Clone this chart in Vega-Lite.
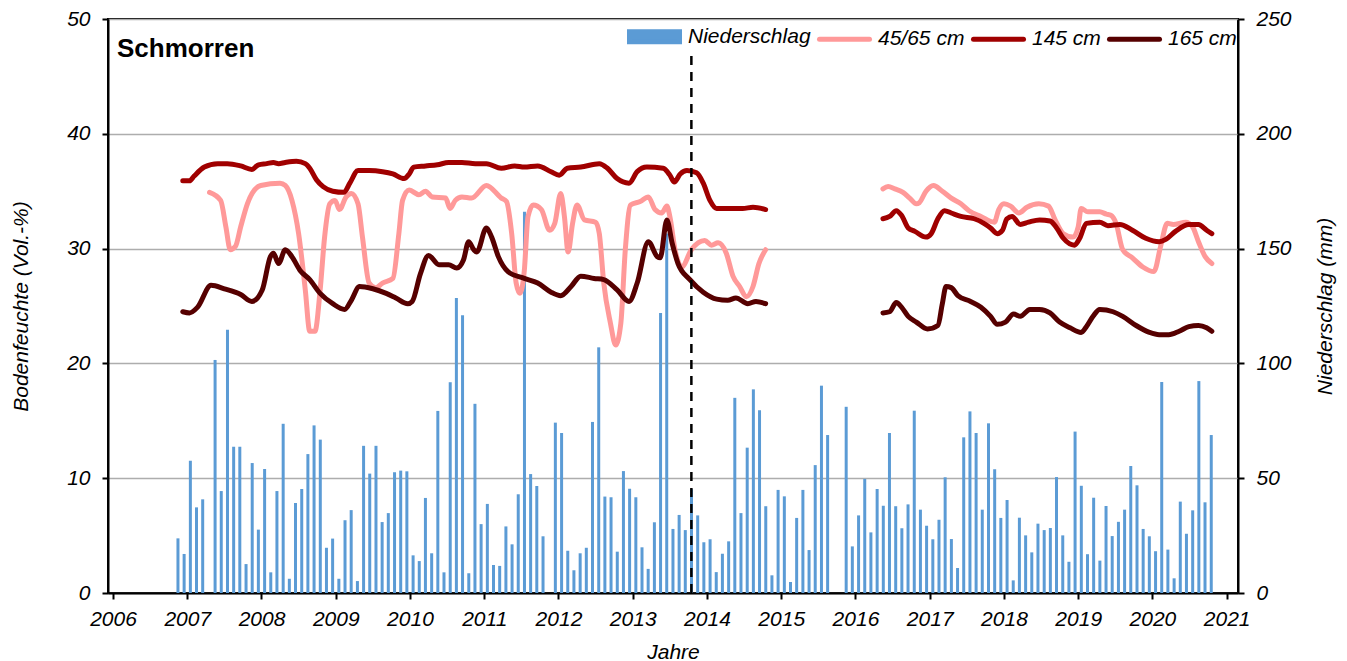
{
  "$schema": "https://vega.github.io/schema/vega-lite/v6.json",
  "width": 1130,
  "height": 574,
  "autosize": {"type": "none"},
  "padding": {"left": 108, "top": 19, "right": 109, "bottom": 68},
  "background": "white",
  "config": {
    "font": "Liberation Sans",
    "view": {"stroke": "black", "strokeWidth": 2},
    "axis": {
      "domainColor": "black", "domainWidth": 2,
      "tickColor": "black", "tickWidth": 2, "tickSize": 6,
      "labelFont": "Liberation Sans", "labelFontSize": 21, "labelFontStyle": "italic", "labelColor": "black",
      "titleFont": "Liberation Sans", "titleFontSize": 21, "titleFontStyle": "italic", "titleFontWeight": "normal", "titleColor": "black",
      "gridColor": "#ADADAD", "gridWidth": 1.3
    }
  },
  "title": {
    "text": "Schmorren", "anchor": "start", "frame": "group", "orient": "top",
    "offset": -75, "baseline": "alphabetic", "dx": 9,
    "font": "Liberation Sans", "fontSize": 26, "fontWeight": "bold", "color": "black"
  },
  "datasets": {
    "bars": [
      {"t":2006.875,"p":23.8},{"t":2006.958,"p":17.0},
      {"t":2007.042,"p":57.6},{"t":2007.125,"p":37.3},{"t":2007.208,"p":40.8},{"t":2007.375,"p":101.5},{"t":2007.458,"p":44.4},{"t":2007.542,"p":114.7},{"t":2007.625,"p":63.7},{"t":2007.708,"p":63.7},{"t":2007.792,"p":12.6},{"t":2007.875,"p":56.6},{"t":2007.958,"p":27.6},
      {"t":2008.042,"p":54.0},{"t":2008.125,"p":9.0},{"t":2008.208,"p":44.4},{"t":2008.292,"p":73.7},{"t":2008.375,"p":6.2},{"t":2008.458,"p":39.2},{"t":2008.542,"p":45.3},{"t":2008.625,"p":60.5},{"t":2008.708,"p":73.0},{"t":2008.792,"p":66.8},{"t":2008.875,"p":19.7},{"t":2008.958,"p":23.7},
      {"t":2009.042,"p":6.2},{"t":2009.125,"p":31.7},{"t":2009.208,"p":36.1},{"t":2009.292,"p":5.2},{"t":2009.375,"p":64.1},{"t":2009.458,"p":52.0},{"t":2009.542,"p":64.1},{"t":2009.625,"p":30.9},{"t":2009.708,"p":34.8},{"t":2009.792,"p":52.6},{"t":2009.875,"p":53.3},{"t":2009.958,"p":53.0},
      {"t":2010.042,"p":16.4},{"t":2010.125,"p":13.9},{"t":2010.208,"p":41.4},{"t":2010.292,"p":17.3},{"t":2010.375,"p":79.3},{"t":2010.458,"p":9.0},{"t":2010.542,"p":91.8},{"t":2010.625,"p":128.5},{"t":2010.708,"p":121.0},{"t":2010.792,"p":8.6},{"t":2010.875,"p":82.4},{"t":2010.958,"p":30.0},
      {"t":2011.042,"p":38.8},{"t":2011.125,"p":12.2},{"t":2011.208,"p":11.8},{"t":2011.292,"p":29.0},{"t":2011.375,"p":21.2},{"t":2011.458,"p":43.0},{"t":2011.542,"p":166.0},{"t":2011.625,"p":51.8},{"t":2011.708,"p":46.6},{"t":2011.792,"p":24.7},{"t":2011.958,"p":74.2},
      {"t":2012.042,"p":69.7},{"t":2012.125,"p":18.4},{"t":2012.208,"p":9.9},{"t":2012.292,"p":17.3},{"t":2012.375,"p":19.7},{"t":2012.458,"p":74.5},{"t":2012.542,"p":107.0},{"t":2012.625,"p":42.0},{"t":2012.708,"p":41.7},{"t":2012.792,"p":18.0},{"t":2012.875,"p":53.1},{"t":2012.958,"p":45.4},
      {"t":2013.042,"p":41.7},{"t":2013.125,"p":19.9},{"t":2013.208,"p":10.5},{"t":2013.292,"p":30.8},{"t":2013.375,"p":122.0},{"t":2013.458,"p":156.6},{"t":2013.542,"p":27.9},{"t":2013.625,"p":34.0},{"t":2013.708,"p":27.4},{"t":2013.792,"p":45.2},{"t":2013.875,"p":33.8},{"t":2013.958,"p":22.1},
      {"t":2014.042,"p":23.4},{"t":2014.125,"p":9.1},{"t":2014.208,"p":17.1},{"t":2014.292,"p":22.5},{"t":2014.375,"p":85.0},{"t":2014.458,"p":34.8},{"t":2014.542,"p":63.3},{"t":2014.625,"p":88.7},{"t":2014.708,"p":79.6},{"t":2014.792,"p":37.8},{"t":2014.875,"p":7.7},{"t":2014.958,"p":44.9},
      {"t":2015.042,"p":42.1},{"t":2015.125,"p":4.8},{"t":2015.208,"p":32.7},{"t":2015.292,"p":44.9},{"t":2015.375,"p":18.7},{"t":2015.458,"p":55.7},{"t":2015.542,"p":90.3},{"t":2015.625,"p":68.8},{"t":2015.875,"p":81.1},{"t":2015.958,"p":20.3},
      {"t":2016.042,"p":33.8},{"t":2016.125,"p":49.7},{"t":2016.208,"p":26.4},{"t":2016.292,"p":45.3},{"t":2016.375,"p":38.0},{"t":2016.458,"p":69.7},{"t":2016.542,"p":37.8},{"t":2016.625,"p":28.2},{"t":2016.708,"p":38.6},{"t":2016.792,"p":79.4},{"t":2016.875,"p":36.3},{"t":2016.958,"p":29.3},
      {"t":2017.042,"p":23.4},{"t":2017.125,"p":31.9},{"t":2017.208,"p":50.4},{"t":2017.292,"p":23.5},{"t":2017.375,"p":10.9},{"t":2017.458,"p":67.8},{"t":2017.542,"p":79.1},{"t":2017.625,"p":69.7},{"t":2017.708,"p":36.3},{"t":2017.792,"p":73.9},{"t":2017.875,"p":53.9},{"t":2017.958,"p":32.7},
      {"t":2018.042,"p":40.5},{"t":2018.125,"p":5.5},{"t":2018.208,"p":32.8},{"t":2018.292,"p":25.1},{"t":2018.375,"p":17.7},{"t":2018.458,"p":30.2},{"t":2018.542,"p":27.4},{"t":2018.625,"p":28.3},{"t":2018.708,"p":50.5},{"t":2018.792,"p":25.1},{"t":2018.875,"p":13.6},{"t":2018.958,"p":70.3},
      {"t":2019.042,"p":46.7},{"t":2019.125,"p":16.9},{"t":2019.208,"p":41.5},{"t":2019.292,"p":14.1},{"t":2019.375,"p":37.9},{"t":2019.458,"p":24.8},{"t":2019.542,"p":31.0},{"t":2019.625,"p":36.3},{"t":2019.708,"p":55.3},{"t":2019.792,"p":46.9},{"t":2019.875,"p":27.9},{"t":2019.958,"p":24.7},
      {"t":2020.042,"p":18.2},{"t":2020.125,"p":91.9},{"t":2020.208,"p":18.9},{"t":2020.292,"p":6.4},{"t":2020.375,"p":39.8},{"t":2020.458,"p":25.8},{"t":2020.542,"p":36.0},{"t":2020.625,"p":92.3},{"t":2020.708,"p":39.5},{"t":2020.792,"p":68.8}
    ],
    "soil": [
      {"t":2007.30,"v":34.9,"s":"45/65 cm","g":1},{"t":2007.45,"v":34.2,"s":"45/65 cm","g":1},{"t":2007.52,"v":31.9,"s":"45/65 cm","g":1},{"t":2007.58,"v":29.9,"s":"45/65 cm","g":1},{"t":2007.65,"v":30.2,"s":"45/65 cm","g":1},{"t":2007.72,"v":31.9,"s":"45/65 cm","g":1},{"t":2007.81,"v":33.9,"s":"45/65 cm","g":1},{"t":2007.99,"v":35.5,"s":"45/65 cm","g":1},{"t":2008.25,"v":35.7,"s":"45/65 cm","g":1},{"t":2008.32,"v":35.5,"s":"45/65 cm","g":1},{"t":2008.41,"v":34.2,"s":"45/65 cm","g":1},{"t":2008.50,"v":31.3,"s":"45/65 cm","g":1},{"t":2008.59,"v":26.4,"s":"45/65 cm","g":1},{"t":2008.65,"v":22.8,"s":"45/65 cm","g":1},{"t":2008.72,"v":22.8,"s":"45/65 cm","g":1},{"t":2008.79,"v":26.4,"s":"45/65 cm","g":1},{"t":2008.85,"v":31.0,"s":"45/65 cm","g":1},{"t":2008.92,"v":33.9,"s":"45/65 cm","g":1},{"t":2008.99,"v":34.2,"s":"45/65 cm","g":1},{"t":2009.05,"v":33.4,"s":"45/65 cm","g":1},{"t":2009.14,"v":34.5,"s":"45/65 cm","g":1},{"t":2009.21,"v":34.8,"s":"45/65 cm","g":1},{"t":2009.30,"v":33.9,"s":"45/65 cm","g":1},{"t":2009.36,"v":31.0,"s":"45/65 cm","g":1},{"t":2009.45,"v":27.0,"s":"45/65 cm","g":1},{"t":2009.54,"v":26.6,"s":"45/65 cm","g":1},{"t":2009.63,"v":27.0,"s":"45/65 cm","g":1},{"t":2009.77,"v":27.4,"s":"45/65 cm","g":1},{"t":2009.85,"v":31.3,"s":"45/65 cm","g":1},{"t":2009.90,"v":34.2,"s":"45/65 cm","g":1},{"t":2009.99,"v":35.1,"s":"45/65 cm","g":1},{"t":2010.12,"v":34.7,"s":"45/65 cm","g":1},{"t":2010.21,"v":35.0,"s":"45/65 cm","g":1},{"t":2010.30,"v":34.5,"s":"45/65 cm","g":1},{"t":2010.48,"v":34.4,"s":"45/65 cm","g":1},{"t":2010.54,"v":33.5,"s":"45/65 cm","g":1},{"t":2010.61,"v":34.2,"s":"45/65 cm","g":1},{"t":2010.70,"v":34.5,"s":"45/65 cm","g":1},{"t":2010.83,"v":34.4,"s":"45/65 cm","g":1},{"t":2011.03,"v":35.5,"s":"45/65 cm","g":1},{"t":2011.23,"v":34.4,"s":"45/65 cm","g":1},{"t":2011.30,"v":34.1,"s":"45/65 cm","g":1},{"t":2011.37,"v":31.3,"s":"45/65 cm","g":1},{"t":2011.43,"v":27.0,"s":"45/65 cm","g":1},{"t":2011.48,"v":26.1,"s":"45/65 cm","g":1},{"t":2011.54,"v":28.1,"s":"45/65 cm","g":1},{"t":2011.59,"v":32.8,"s":"45/65 cm","g":1},{"t":2011.66,"v":33.8,"s":"45/65 cm","g":1},{"t":2011.77,"v":33.4,"s":"45/65 cm","g":1},{"t":2011.88,"v":31.6,"s":"45/65 cm","g":1},{"t":2011.95,"v":32.2,"s":"45/65 cm","g":1},{"t":2012.03,"v":34.8,"s":"45/65 cm","g":1},{"t":2012.08,"v":32.8,"s":"45/65 cm","g":1},{"t":2012.13,"v":29.7,"s":"45/65 cm","g":1},{"t":2012.19,"v":32.2,"s":"45/65 cm","g":1},{"t":2012.25,"v":33.8,"s":"45/65 cm","g":1},{"t":2012.35,"v":32.5,"s":"45/65 cm","g":1},{"t":2012.50,"v":32.3,"s":"45/65 cm","g":1},{"t":2012.55,"v":31.3,"s":"45/65 cm","g":1},{"t":2012.61,"v":27.0,"s":"45/65 cm","g":1},{"t":2012.70,"v":23.5,"s":"45/65 cm","g":1},{"t":2012.77,"v":21.6,"s":"45/65 cm","g":1},{"t":2012.84,"v":23.5,"s":"45/65 cm","g":1},{"t":2012.90,"v":29.9,"s":"45/65 cm","g":1},{"t":2012.97,"v":33.8,"s":"45/65 cm","g":1},{"t":2013.10,"v":34.1,"s":"45/65 cm","g":1},{"t":2013.21,"v":34.5,"s":"45/65 cm","g":1},{"t":2013.30,"v":33.4,"s":"45/65 cm","g":1},{"t":2013.39,"v":33.1,"s":"45/65 cm","g":1},{"t":2013.46,"v":33.7,"s":"45/65 cm","g":1},{"t":2013.50,"v":32.8,"s":"45/65 cm","g":1},{"t":2013.57,"v":29.9,"s":"45/65 cm","g":1},{"t":2013.66,"v":28.4,"s":"45/65 cm","g":1},{"t":2013.79,"v":29.9,"s":"45/65 cm","g":1},{"t":2013.97,"v":30.7,"s":"45/65 cm","g":1},{"t":2014.06,"v":30.3,"s":"45/65 cm","g":1},{"t":2014.15,"v":30.5,"s":"45/65 cm","g":1},{"t":2014.26,"v":29.6,"s":"45/65 cm","g":1},{"t":2014.35,"v":27.6,"s":"45/65 cm","g":1},{"t":2014.44,"v":26.7,"s":"45/65 cm","g":1},{"t":2014.53,"v":25.8,"s":"45/65 cm","g":1},{"t":2014.62,"v":26.7,"s":"45/65 cm","g":1},{"t":2014.70,"v":28.7,"s":"45/65 cm","g":1},{"t":2014.79,"v":29.9,"s":"45/65 cm","g":1},
      {"t":2016.37,"v":35.2,"s":"45/65 cm","g":2},{"t":2016.44,"v":35.4,"s":"45/65 cm","g":2},{"t":2016.53,"v":35.2,"s":"45/65 cm","g":2},{"t":2016.64,"v":34.9,"s":"45/65 cm","g":2},{"t":2016.73,"v":34.4,"s":"45/65 cm","g":2},{"t":2016.82,"v":33.9,"s":"45/65 cm","g":2},{"t":2016.86,"v":34.0,"s":"45/65 cm","g":2},{"t":2016.95,"v":35.0,"s":"45/65 cm","g":2},{"t":2017.05,"v":35.5,"s":"45/65 cm","g":2},{"t":2017.17,"v":35.0,"s":"45/65 cm","g":2},{"t":2017.29,"v":34.4,"s":"45/65 cm","g":2},{"t":2017.42,"v":33.9,"s":"45/65 cm","g":2},{"t":2017.53,"v":33.3,"s":"45/65 cm","g":2},{"t":2017.69,"v":32.8,"s":"45/65 cm","g":2},{"t":2017.87,"v":32.3,"s":"45/65 cm","g":2},{"t":2017.93,"v":33.4,"s":"45/65 cm","g":2},{"t":2018.00,"v":33.9,"s":"45/65 cm","g":2},{"t":2018.09,"v":33.7,"s":"45/65 cm","g":2},{"t":2018.20,"v":33.1,"s":"45/65 cm","g":2},{"t":2018.31,"v":33.6,"s":"45/65 cm","g":2},{"t":2018.47,"v":33.9,"s":"45/65 cm","g":2},{"t":2018.60,"v":33.7,"s":"45/65 cm","g":2},{"t":2018.69,"v":32.5,"s":"45/65 cm","g":2},{"t":2018.80,"v":31.3,"s":"45/65 cm","g":2},{"t":2018.93,"v":31.0,"s":"45/65 cm","g":2},{"t":2019.00,"v":31.9,"s":"45/65 cm","g":2},{"t":2019.04,"v":33.5,"s":"45/65 cm","g":2},{"t":2019.13,"v":33.2,"s":"45/65 cm","g":2},{"t":2019.29,"v":33.2,"s":"45/65 cm","g":2},{"t":2019.38,"v":33.0,"s":"45/65 cm","g":2},{"t":2019.44,"v":32.9,"s":"45/65 cm","g":2},{"t":2019.51,"v":32.2,"s":"45/65 cm","g":2},{"t":2019.60,"v":29.9,"s":"45/65 cm","g":2},{"t":2019.73,"v":29.2,"s":"45/65 cm","g":2},{"t":2019.87,"v":28.4,"s":"45/65 cm","g":2},{"t":2020.02,"v":28.0,"s":"45/65 cm","g":2},{"t":2020.11,"v":30.2,"s":"45/65 cm","g":2},{"t":2020.20,"v":32.2,"s":"45/65 cm","g":2},{"t":2020.28,"v":32.1,"s":"45/65 cm","g":2},{"t":2020.45,"v":32.3,"s":"45/65 cm","g":2},{"t":2020.54,"v":31.9,"s":"45/65 cm","g":2},{"t":2020.62,"v":30.6,"s":"45/65 cm","g":2},{"t":2020.71,"v":29.3,"s":"45/65 cm","g":2},{"t":2020.80,"v":28.7,"s":"45/65 cm","g":2},
      {"t":2006.94,"v":35.9,"s":"145 cm","g":1},{"t":2007.03,"v":35.9,"s":"145 cm","g":1},{"t":2007.09,"v":36.3,"s":"145 cm","g":1},{"t":2007.23,"v":37.1,"s":"145 cm","g":1},{"t":2007.41,"v":37.4,"s":"145 cm","g":1},{"t":2007.54,"v":37.4,"s":"145 cm","g":1},{"t":2007.72,"v":37.2,"s":"145 cm","g":1},{"t":2007.87,"v":36.9,"s":"145 cm","g":1},{"t":2007.96,"v":37.3,"s":"145 cm","g":1},{"t":2008.07,"v":37.4,"s":"145 cm","g":1},{"t":2008.16,"v":37.5,"s":"145 cm","g":1},{"t":2008.23,"v":37.4,"s":"145 cm","g":1},{"t":2008.32,"v":37.5,"s":"145 cm","g":1},{"t":2008.47,"v":37.6,"s":"145 cm","g":1},{"t":2008.59,"v":37.4,"s":"145 cm","g":1},{"t":2008.65,"v":37.0,"s":"145 cm","g":1},{"t":2008.74,"v":36.0,"s":"145 cm","g":1},{"t":2008.83,"v":35.4,"s":"145 cm","g":1},{"t":2008.96,"v":35.0,"s":"145 cm","g":1},{"t":2009.11,"v":34.9,"s":"145 cm","g":1},{"t":2009.19,"v":35.7,"s":"145 cm","g":1},{"t":2009.30,"v":36.8,"s":"145 cm","g":1},{"t":2009.45,"v":36.8,"s":"145 cm","g":1},{"t":2009.63,"v":36.7,"s":"145 cm","g":1},{"t":2009.77,"v":36.5,"s":"145 cm","g":1},{"t":2009.92,"v":36.1,"s":"145 cm","g":1},{"t":2009.99,"v":36.5,"s":"145 cm","g":1},{"t":2010.05,"v":37.1,"s":"145 cm","g":1},{"t":2010.21,"v":37.2,"s":"145 cm","g":1},{"t":2010.37,"v":37.3,"s":"145 cm","g":1},{"t":2010.52,"v":37.5,"s":"145 cm","g":1},{"t":2010.70,"v":37.5,"s":"145 cm","g":1},{"t":2010.88,"v":37.4,"s":"145 cm","g":1},{"t":2011.03,"v":37.4,"s":"145 cm","g":1},{"t":2011.23,"v":37.0,"s":"145 cm","g":1},{"t":2011.41,"v":37.2,"s":"145 cm","g":1},{"t":2011.54,"v":37.1,"s":"145 cm","g":1},{"t":2011.72,"v":37.2,"s":"145 cm","g":1},{"t":2011.90,"v":36.7,"s":"145 cm","g":1},{"t":2012.01,"v":36.4,"s":"145 cm","g":1},{"t":2012.12,"v":37.0,"s":"145 cm","g":1},{"t":2012.30,"v":37.1,"s":"145 cm","g":1},{"t":2012.55,"v":37.4,"s":"145 cm","g":1},{"t":2012.66,"v":37.0,"s":"145 cm","g":1},{"t":2012.79,"v":36.1,"s":"145 cm","g":1},{"t":2012.95,"v":35.7,"s":"145 cm","g":1},{"t":2013.06,"v":36.7,"s":"145 cm","g":1},{"t":2013.19,"v":37.1,"s":"145 cm","g":1},{"t":2013.41,"v":37.0,"s":"145 cm","g":1},{"t":2013.50,"v":36.4,"s":"145 cm","g":1},{"t":2013.56,"v":35.8,"s":"145 cm","g":1},{"t":2013.64,"v":36.5,"s":"145 cm","g":1},{"t":2013.73,"v":36.8,"s":"145 cm","g":1},{"t":2013.86,"v":36.6,"s":"145 cm","g":1},{"t":2013.95,"v":35.7,"s":"145 cm","g":1},{"t":2014.04,"v":34.2,"s":"145 cm","g":1},{"t":2014.13,"v":33.5,"s":"145 cm","g":1},{"t":2014.30,"v":33.5,"s":"145 cm","g":1},{"t":2014.48,"v":33.5,"s":"145 cm","g":1},{"t":2014.62,"v":33.6,"s":"145 cm","g":1},{"t":2014.79,"v":33.4,"s":"145 cm","g":1},
      {"t":2016.37,"v":32.6,"s":"145 cm","g":2},{"t":2016.46,"v":32.8,"s":"145 cm","g":2},{"t":2016.55,"v":33.3,"s":"145 cm","g":2},{"t":2016.62,"v":32.9,"s":"145 cm","g":2},{"t":2016.71,"v":31.8,"s":"145 cm","g":2},{"t":2016.80,"v":31.5,"s":"145 cm","g":2},{"t":2016.95,"v":31.0,"s":"145 cm","g":2},{"t":2017.02,"v":31.3,"s":"145 cm","g":2},{"t":2017.11,"v":32.6,"s":"145 cm","g":2},{"t":2017.20,"v":33.3,"s":"145 cm","g":2},{"t":2017.29,"v":33.1,"s":"145 cm","g":2},{"t":2017.42,"v":32.8,"s":"145 cm","g":2},{"t":2017.60,"v":32.6,"s":"145 cm","g":2},{"t":2017.73,"v":32.2,"s":"145 cm","g":2},{"t":2017.82,"v":31.8,"s":"145 cm","g":2},{"t":2017.91,"v":31.3,"s":"145 cm","g":2},{"t":2017.98,"v":31.6,"s":"145 cm","g":2},{"t":2018.04,"v":32.6,"s":"145 cm","g":2},{"t":2018.11,"v":32.8,"s":"145 cm","g":2},{"t":2018.22,"v":32.1,"s":"145 cm","g":2},{"t":2018.33,"v":32.3,"s":"145 cm","g":2},{"t":2018.48,"v":32.5,"s":"145 cm","g":2},{"t":2018.62,"v":32.4,"s":"145 cm","g":2},{"t":2018.71,"v":31.8,"s":"145 cm","g":2},{"t":2018.80,"v":30.9,"s":"145 cm","g":2},{"t":2018.95,"v":30.3,"s":"145 cm","g":2},{"t":2019.02,"v":30.9,"s":"145 cm","g":2},{"t":2019.11,"v":32.2,"s":"145 cm","g":2},{"t":2019.29,"v":32.3,"s":"145 cm","g":2},{"t":2019.40,"v":32.0,"s":"145 cm","g":2},{"t":2019.56,"v":32.1,"s":"145 cm","g":2},{"t":2019.73,"v":31.6,"s":"145 cm","g":2},{"t":2019.91,"v":30.9,"s":"145 cm","g":2},{"t":2020.09,"v":30.6,"s":"145 cm","g":2},{"t":2020.18,"v":30.8,"s":"145 cm","g":2},{"t":2020.31,"v":31.5,"s":"145 cm","g":2},{"t":2020.49,"v":32.1,"s":"145 cm","g":2},{"t":2020.62,"v":32.1,"s":"145 cm","g":2},{"t":2020.73,"v":31.6,"s":"145 cm","g":2},{"t":2020.80,"v":31.3,"s":"145 cm","g":2},
      {"t":2006.94,"v":24.5,"s":"165 cm","g":1},{"t":2007.03,"v":24.4,"s":"165 cm","g":1},{"t":2007.14,"v":24.9,"s":"165 cm","g":1},{"t":2007.32,"v":26.8,"s":"165 cm","g":1},{"t":2007.50,"v":26.5,"s":"165 cm","g":1},{"t":2007.72,"v":26.0,"s":"165 cm","g":1},{"t":2007.87,"v":25.4,"s":"165 cm","g":1},{"t":2008.01,"v":26.4,"s":"165 cm","g":1},{"t":2008.12,"v":29.3,"s":"165 cm","g":1},{"t":2008.16,"v":29.6,"s":"165 cm","g":1},{"t":2008.23,"v":28.7,"s":"165 cm","g":1},{"t":2008.32,"v":29.9,"s":"165 cm","g":1},{"t":2008.41,"v":29.3,"s":"165 cm","g":1},{"t":2008.52,"v":28.1,"s":"165 cm","g":1},{"t":2008.65,"v":27.3,"s":"165 cm","g":1},{"t":2008.79,"v":26.1,"s":"165 cm","g":1},{"t":2008.96,"v":25.2,"s":"165 cm","g":1},{"t":2009.12,"v":24.7,"s":"165 cm","g":1},{"t":2009.21,"v":25.5,"s":"165 cm","g":1},{"t":2009.32,"v":26.7,"s":"165 cm","g":1},{"t":2009.50,"v":26.5,"s":"165 cm","g":1},{"t":2009.68,"v":26.1,"s":"165 cm","g":1},{"t":2009.81,"v":25.7,"s":"165 cm","g":1},{"t":2009.97,"v":25.2,"s":"165 cm","g":1},{"t":2010.03,"v":25.4,"s":"165 cm","g":1},{"t":2010.14,"v":27.8,"s":"165 cm","g":1},{"t":2010.25,"v":29.4,"s":"165 cm","g":1},{"t":2010.39,"v":28.6,"s":"165 cm","g":1},{"t":2010.52,"v":28.6,"s":"165 cm","g":1},{"t":2010.63,"v":28.3,"s":"165 cm","g":1},{"t":2010.72,"v":29.0,"s":"165 cm","g":1},{"t":2010.79,"v":30.6,"s":"165 cm","g":1},{"t":2010.86,"v":29.9,"s":"165 cm","g":1},{"t":2010.90,"v":29.7,"s":"165 cm","g":1},{"t":2011.03,"v":31.8,"s":"165 cm","g":1},{"t":2011.10,"v":31.0,"s":"165 cm","g":1},{"t":2011.19,"v":29.3,"s":"165 cm","g":1},{"t":2011.32,"v":28.0,"s":"165 cm","g":1},{"t":2011.54,"v":27.4,"s":"165 cm","g":1},{"t":2011.72,"v":27.0,"s":"165 cm","g":1},{"t":2011.90,"v":26.2,"s":"165 cm","g":1},{"t":2012.03,"v":25.9,"s":"165 cm","g":1},{"t":2012.17,"v":26.7,"s":"165 cm","g":1},{"t":2012.30,"v":27.6,"s":"165 cm","g":1},{"t":2012.48,"v":27.4,"s":"165 cm","g":1},{"t":2012.61,"v":27.3,"s":"165 cm","g":1},{"t":2012.79,"v":26.4,"s":"165 cm","g":1},{"t":2012.95,"v":25.4,"s":"165 cm","g":1},{"t":2013.06,"v":27.0,"s":"165 cm","g":1},{"t":2013.21,"v":30.6,"s":"165 cm","g":1},{"t":2013.33,"v":29.3,"s":"165 cm","g":1},{"t":2013.37,"v":29.2,"s":"165 cm","g":1},{"t":2013.46,"v":32.5,"s":"165 cm","g":1},{"t":2013.53,"v":30.5,"s":"165 cm","g":1},{"t":2013.61,"v":28.7,"s":"165 cm","g":1},{"t":2013.77,"v":27.3,"s":"165 cm","g":1},{"t":2013.95,"v":26.2,"s":"165 cm","g":1},{"t":2014.13,"v":25.6,"s":"165 cm","g":1},{"t":2014.28,"v":25.5,"s":"165 cm","g":1},{"t":2014.39,"v":25.7,"s":"165 cm","g":1},{"t":2014.55,"v":25.2,"s":"165 cm","g":1},{"t":2014.66,"v":25.4,"s":"165 cm","g":1},{"t":2014.79,"v":25.2,"s":"165 cm","g":1},
      {"t":2016.37,"v":24.4,"s":"165 cm","g":2},{"t":2016.46,"v":24.5,"s":"165 cm","g":2},{"t":2016.55,"v":25.3,"s":"165 cm","g":2},{"t":2016.62,"v":24.9,"s":"165 cm","g":2},{"t":2016.71,"v":24.1,"s":"165 cm","g":2},{"t":2016.82,"v":23.6,"s":"165 cm","g":2},{"t":2016.97,"v":23.0,"s":"165 cm","g":2},{"t":2017.11,"v":23.3,"s":"165 cm","g":2},{"t":2017.17,"v":25.2,"s":"165 cm","g":2},{"t":2017.22,"v":26.7,"s":"165 cm","g":2},{"t":2017.29,"v":26.6,"s":"165 cm","g":2},{"t":2017.38,"v":25.9,"s":"165 cm","g":2},{"t":2017.55,"v":25.4,"s":"165 cm","g":2},{"t":2017.69,"v":24.9,"s":"165 cm","g":2},{"t":2017.82,"v":24.1,"s":"165 cm","g":2},{"t":2017.91,"v":23.4,"s":"165 cm","g":2},{"t":2018.02,"v":23.6,"s":"165 cm","g":2},{"t":2018.13,"v":24.3,"s":"165 cm","g":2},{"t":2018.22,"v":24.1,"s":"165 cm","g":2},{"t":2018.35,"v":24.7,"s":"165 cm","g":2},{"t":2018.48,"v":24.7,"s":"165 cm","g":2},{"t":2018.62,"v":24.4,"s":"165 cm","g":2},{"t":2018.75,"v":23.6,"s":"165 cm","g":2},{"t":2018.89,"v":23.1,"s":"165 cm","g":2},{"t":2019.04,"v":22.7,"s":"165 cm","g":2},{"t":2019.11,"v":23.2,"s":"165 cm","g":2},{"t":2019.20,"v":24.1,"s":"165 cm","g":2},{"t":2019.29,"v":24.7,"s":"165 cm","g":2},{"t":2019.47,"v":24.5,"s":"165 cm","g":2},{"t":2019.60,"v":24.1,"s":"165 cm","g":2},{"t":2019.78,"v":23.3,"s":"165 cm","g":2},{"t":2019.96,"v":22.7,"s":"165 cm","g":2},{"t":2020.09,"v":22.5,"s":"165 cm","g":2},{"t":2020.22,"v":22.5,"s":"165 cm","g":2},{"t":2020.36,"v":22.8,"s":"165 cm","g":2},{"t":2020.49,"v":23.2,"s":"165 cm","g":2},{"t":2020.62,"v":23.3,"s":"165 cm","g":2},{"t":2020.73,"v":23.1,"s":"165 cm","g":2},{"t":2020.80,"v":22.8,"s":"165 cm","g":2}
    ],
    "marker": [{"t": 2013.79}]
  },
  "encoding": {
    "x": {
      "field": "t", "type": "quantitative",
      "scale": {"domain": [2006, 2021.085], "nice": false, "zero": false},
      "axis": {"title": "Jahre", "values": [2006,2007,2008,2009,2010,2011,2012,2013,2014,2015,2016,2017,2018,2019,2020,2021], "format": "d", "grid": false, "labelFlush": false, "labelOverlap": false, "labelPadding": 9, "titlePadding": 12}
    }
  },
  "layer": [
    {
      "data": {"name": "bars"},
      "mark": {"type": "bar", "width": 3},
      "encoding": {
        "y": {"field": "p", "type": "quantitative", "scale": {"domain": [0, 250], "nice": false},
          "axis": {"orient": "right", "title": "Niederschlag (mm)", "values": [0,50,100,150,200,250], "grid": false, "labelPadding": 12, "titlePadding": 44, "titleAngle": 270}},
        "color": {"datum": "Niederschlag", "type": "nominal",
          "scale": {"domain": ["Niederschlag", "45/65 cm", "145 cm", "165 cm"], "range": ["#5B9BD5", "#FF9999", "#A00000", "#560000"]}}
      }
    },
    {
      "data": {"name": "soil"},
      "mark": {"type": "line", "strokeWidth": 5, "interpolate": "monotone", "strokeCap": "round", "strokeJoin": "round"},
      "encoding": {
        "y": {"field": "v", "type": "quantitative", "scale": {"domain": [0, 50], "nice": false},
          "axis": {"orient": "left", "title": "Bodenfeuchte (Vol.-%)", "values": [0,10,20,30,40,50], "grid": true, "labelPadding": 12, "titlePadding": 35}},
        "color": {"field": "s", "type": "nominal",
          "scale": {"domain": ["Niederschlag", "45/65 cm", "145 cm", "165 cm"], "range": ["#5B9BD5", "#FF9999", "#A00000", "#560000"]},
          "legend": {
            "orient": "none", "legendX": 519, "legendY": -10, "direction": "horizontal", "columns": 4,
            "title": null, "symbolType": "stroke", "symbolSize": 2500, "symbolStrokeWidth": 5,
            "labelFont": "Liberation Sans", "labelFontSize": 21, "labelFontStyle": "italic", "labelColor": "black",
            "labelOffset": 6, "columnPadding": -2, "padding": 0, "labelLimit": 300,
            "encode": {"symbols": {"update": {
              "shape": {"signal": "datum.value === 'Niederschlag' ? 'M-1,-0.2H1V0.2H-1Z' : 'stroke'"},
              "fill": {"scale": "color", "field": "value"},
              "stroke": {"signal": "datum.value === 'Niederschlag' ? 'transparent' : scale('color', datum.value)"},
              "strokeCap": {"value": "round"},
              "opacity": {"value": 1}
            }}}
          }},
        "detail": {"field": "g", "type": "nominal"}
      }
    },
    {
      "data": {"name": "marker"},
      "mark": {"type": "rule", "color": "black", "strokeWidth": 2.5, "strokeDash": [9, 7]},
      "encoding": {
        "y": {"datum": 0, "type": "quantitative", "scale": {"domain": [0, 50], "nice": false}, "axis": null},
        "y2": {"datum": 47.3}
      }
    }
  ],
  "resolve": {"scale": {"y": "independent"}}
}
